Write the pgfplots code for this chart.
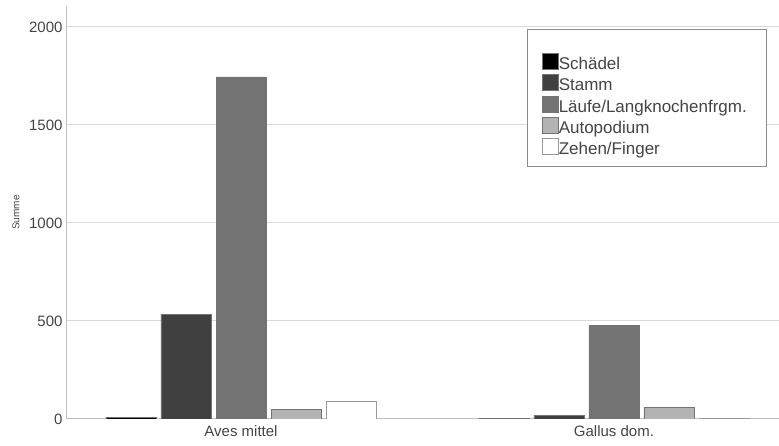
\documentclass[border=0pt]{standalone}
\usepackage{fontspec}
\setmainfont{Liberation Sans}
\usepackage{pgfplots}
\pgfplotsset{compat=1.18}
\definecolor{cA}{HTML}{000000}
\definecolor{cB}{HTML}{404040}
\definecolor{cC}{HTML}{737373}
\definecolor{cD}{HTML}{B3B3B3}
\definecolor{cE}{HTML}{FFFFFF}
\definecolor{txt}{HTML}{444444}
\begin{document}
\begin{tikzpicture}
\begin{axis}[
  scale only axis, width=712pt, height=413pt,
  xmin=-0.4665, xmax=1.4424, ymin=0, ymax=2107,
  axis lines=left,
  axis line style={draw=black!25, line width=1pt, -},
  xtick={0,1}, xticklabels={Aves mittel, Gallus dom.},
  ytick={0,500,1000,1500,2000},
  ymajorgrids, grid style={black!15, line width=1pt},
  major tick length=0pt,
  /pgf/number format/assume math mode=true,
  /pgf/number format/set thousands separator={},
  tick label style={font=\fontsize{15}{15}\selectfont, text=txt},
  xticklabel style={yshift=-3pt},
  yticklabel style={xshift=-1pt},
  ylabel={Summe},
  ylabel style={at={(rel axis cs:-0.0716,0.5)}, anchor=center, font=\fontsize{10}{10}\selectfont, text=txt},
  legend style={at={(rel axis cs:0.6671,0.8862)}, anchor=north west, draw=none, fill=none, inner sep=0pt,
    font=\fontsize{17}{17}\selectfont, text=txt, cells={anchor=west}, row sep=1pt,
    nodes={inner sep=0pt, text height=12pt, text depth=4pt},
    /tikz/every even column/.append style={column sep=3pt}},
  legend image code/.code={\draw[#1, line width=0.6pt] (0pt,-4pt) rectangle (16pt,12pt);},
]
\draw[black!45, fill=white, line width=1pt] (rel axis cs:0.6461,0.6102) rectangle (rel axis cs:0.9831,0.9419);
\addplot[ybar, bar width=50pt, bar shift=-110pt, fill=cA, draw=black!55, line width=0.6pt] coordinates {(0,8) (1,4)};
\addlegendentry{Schädel}
\addplot[ybar, bar width=50pt, bar shift=-55pt, fill=cB, draw=black!55, line width=0.6pt] coordinates {(0,532) (1,18)};
\addlegendentry{Stamm}
\addplot[ybar, bar width=50pt, bar shift=0pt, fill=cC, draw=black!55, line width=0.6pt] coordinates {(0,1745) (1,476)};
\addlegendentry{Läufe/Langknochenfrgm.}
\addplot[ybar, bar width=50pt, bar shift=55pt, fill=cD, draw=black!55, line width=0.6pt] coordinates {(0,48) (1,61)};
\addlegendentry{Autopodium}
\addplot[ybar, bar width=50pt, bar shift=110pt, fill=cE, draw=black!40, line width=0.6pt] coordinates {(0,88) (1,4)};
\addlegendentry{Zehen/Finger}
\end{axis}
\pgfresetboundingbox
\path (-67pt,-27pt) rectangle (712pt,419pt);
\end{tikzpicture}
\end{document}
